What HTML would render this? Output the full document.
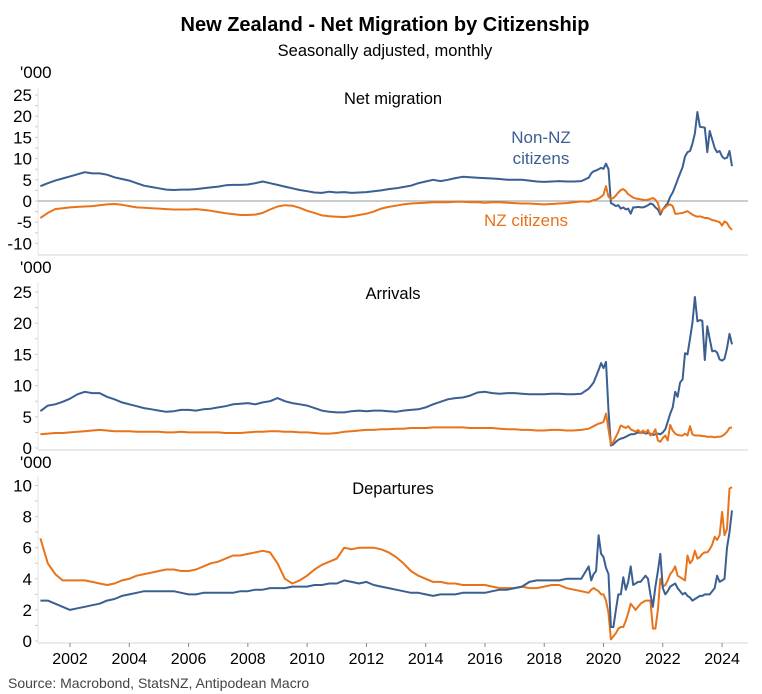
<!DOCTYPE html>
<html><head><meta charset="utf-8">
<style>
html,body{margin:0;padding:0;background:#fff;}
svg{display:block;font-family:"Liberation Sans",Arial,sans-serif;}
</style></head>
<body>
<svg id="chart" width="762" height="694" viewBox="0 0 762 694" xmlns="http://www.w3.org/2000/svg">
<text x="385" y="31" text-anchor="middle" font-size="20" font-weight="bold" fill="#000">New Zealand - Net Migration by Citizenship</text>
<text x="385" y="56" text-anchor="middle" font-size="16.5" fill="#000">Seasonally adjusted, monthly</text>
<text x="8" y="688" font-size="14" fill="#444">Source: Macrobond, StatsNZ, Antipodean Macro</text>
<text x="541" y="143" text-anchor="middle" font-size="17" fill="#3a5f92">Non-NZ</text>
<text x="541" y="164" text-anchor="middle" font-size="17" fill="#3a5f92">citizens</text>
<text x="526" y="226" text-anchor="middle" font-size="17" fill="#e8731a">NZ citizens</text>
<g id="plots"></g>
</svg>
<script>
// Quarterly values 2001Q1..2019Q2 (74 points), then monthly Jul 2019..May 2024 (59 points)
const netNonNZ = [3.5,4.2,4.8,5.3, 5.8,6.3,6.8,6.5, 6.5,6.2,5.6,5.2, 4.8,4.2,3.6,3.3, 3.0,2.7,2.6,2.7, 2.7,2.8,3.0,3.2, 3.4,3.7,3.8,3.8, 3.9,4.2,4.6,4.2, 3.8,3.4,3.0,2.6, 2.3,2.0,1.9,2.2, 2.0,2.1,1.9,2.0, 2.1,2.3,2.5,2.8, 3.0,3.3,3.6,4.2, 4.6,5.0,4.7,5.0, 5.4,5.7,5.6,5.5, 5.4,5.3,5.2,5.0, 5.0,5.0,4.8,4.6, 4.5,4.6,4.7,4.6, 4.6,4.7,
 5.5,6.5,7.0,7.2,7.5,7.8,
 7.6,8.8,7.5,-0.5,-0.8,-1.2,-1.0,-1.8,-1.5,-2.0,-1.8,-3.0,
 -1.5,-1.5,-1.4,-1.5,-1.5,-1.3,-1.0,-0.6,-0.8,-1.5,-2.0,-3.2,
 -2.0,-1.2,-0.5,1.0,2.0,3.5,5.0,6.5,8.0,10.5,11.5,11.8,
 13.5,16.0,21.0,17.5,17.4,17.3,11.5,16.5,14.5,12.5,11.5,11.8,
 10.5,10.0,10.2,11.8,8.2];
const netNZ = [-4.0,-2.8,-1.9,-1.7, -1.5,-1.4,-1.3,-1.2, -1.0,-0.8,-0.7,-0.9, -1.2,-1.5,-1.6,-1.7, -1.8,-1.9,-2.0,-2.0, -2.0,-1.9,-2.1,-2.3, -2.6,-2.9,-3.1,-3.3, -3.3,-3.2,-2.8,-2.0, -1.3,-1.0,-1.1,-1.6, -2.3,-2.8,-3.4,-3.6, -3.7,-3.8,-3.6,-3.3, -3.0,-2.5,-1.8,-1.4, -1.1,-0.8,-0.6,-0.5, -0.4,-0.3,-0.3,-0.3, -0.2,-0.2,-0.3,-0.3, -0.4,-0.3,-0.3,-0.4, -0.5,-0.6,-0.6,-0.7, -0.8,-0.7,-0.6,-0.5, -0.3,-0.1,
 -0.2,0,0.2,0.3,0.6,1.0,
 1.5,3.5,1.0,0.5,0.7,1.3,2.0,2.6,2.8,2.3,1.6,1.2,
 0.8,0.6,0.5,0.4,0.3,0.2,0.3,0.5,0.7,0.3,-0.5,-2.6,
 -2.0,-1.5,-1.0,-0.8,-1.2,-3.0,-3.0,-2.9,-2.8,-2.6,-2.4,-2.8,
 -3.2,-3.5,-3.7,-3.6,-3.8,-4.0,-4.0,-4.2,-4.5,-4.6,-4.8,-5.0,
 -5.8,-4.8,-5.2,-6.2,-6.8];
const arrNonNZ = [5.9,6.8,7.0,7.4, 7.9,8.6,9.0,8.8, 8.8,8.2,7.8,7.3, 7.0,6.7,6.4,6.2, 6.0,5.8,5.9,6.1, 6.1,6.0,6.2,6.3, 6.5,6.7,7.0,7.1, 7.2,7.0,7.3,7.5, 8.0,7.5,7.2,7.0, 6.8,6.4,6.0,5.8, 5.7,5.7,5.9,6.0, 5.9,6.0,6.0,5.9, 5.8,6.0,6.1,6.2, 6.5,7.0,7.4,7.8, 8.0,8.1,8.4,8.9, 9.0,8.8,8.7,8.8, 8.8,8.7,8.6,8.6, 8.6,8.7,8.7,8.6, 8.6,8.7,
 9.5,10.0,10.5,11.5,12.5,13.6,
 12.8,13.8,6.0,0.4,0.6,1.0,1.3,1.5,1.6,1.8,2.0,2.2,
 2.2,2.3,2.5,2.4,2.5,2.3,2.4,2.3,2.1,2.2,2.3,2.2,
 2.5,3.0,4.2,5.5,6.5,9.0,8.2,10.5,11.0,15.2,15.0,17.5,
 20.0,24.2,20.3,20.5,20.4,14.1,19.5,17.5,15.5,15.6,15.3,14.2,
 14.0,14.3,16.0,18.3,16.6];
const arrNZ = [2.2,2.3,2.4,2.4, 2.5,2.6,2.7,2.8, 2.9,2.8,2.7,2.7, 2.7,2.6,2.6,2.6, 2.6,2.5,2.5,2.6, 2.5,2.5,2.5,2.5, 2.5,2.4,2.4,2.4, 2.5,2.6,2.6,2.7, 2.7,2.6,2.6,2.5, 2.5,2.4,2.3,2.3, 2.4,2.6,2.7,2.8, 2.9,2.9,3.0,3.0, 3.1,3.1,3.2,3.2, 3.2,3.3,3.3,3.3, 3.3,3.3,3.2,3.2, 3.2,3.2,3.1,3.0, 3.0,2.9,2.9,2.8, 2.8,2.9,2.9,2.8, 2.8,2.9,
 3.1,3.3,3.5,3.7,3.9,4.0,
 4.2,5.5,3.0,0.6,1.0,1.8,2.6,3.6,3.4,3.2,3.5,3.0,
 2.8,2.6,2.9,2.4,2.8,2.4,2.9,2.0,2.3,3.0,1.2,1.0,
 1.6,2.0,1.2,3.7,2.8,2.3,2.1,2.0,2.0,2.3,2.0,3.5,
 2.2,2.0,2.0,2.0,1.9,1.9,1.8,1.8,1.8,1.7,1.8,1.8,
 1.9,2.2,2.6,3.2,3.3];
const depNonNZ = [2.6,2.6,2.4,2.2, 2.0,2.1,2.2,2.3, 2.4,2.6,2.7,2.9, 3.0,3.1,3.2,3.2, 3.2,3.2,3.2,3.1, 3.0,3.0,3.1,3.1, 3.1,3.1,3.1,3.2, 3.2,3.3,3.3,3.4, 3.4,3.4,3.5,3.5, 3.5,3.6,3.6,3.7, 3.7,3.9,3.8,3.7, 3.8,3.6,3.5,3.4, 3.3,3.2,3.1,3.1, 3.0,2.9,3.0,3.0, 3.0,3.1,3.1,3.1, 3.1,3.2,3.3,3.3, 3.4,3.5,3.8,3.9, 3.9,3.9,3.9,4.0, 4.0,4.0,
 4.8,3.9,4.3,4.5,6.8,5.6,
 5.4,4.7,4.3,0.9,0.9,2.0,3.0,3.0,4.1,3.3,3.8,4.8,
 3.6,3.7,3.8,3.8,4.0,4.2,4.0,3.0,2.2,3.5,4.5,5.6,
 3.4,3.0,3.2,3.5,3.6,3.7,3.4,3.2,3.0,3.1,2.9,2.8,
 2.6,2.7,2.8,2.9,2.9,3.0,3.0,3.0,3.2,3.4,4.2,3.8,
 3.9,4.0,6.0,7.0,8.4];
const depNZ = [6.6,5.0,4.3,3.9, 3.9,3.9,3.9,3.8, 3.7,3.6,3.7,3.9, 4.0,4.2,4.3,4.4, 4.5,4.6,4.6,4.5, 4.5,4.6,4.8,5.0, 5.1,5.3,5.5,5.5, 5.6,5.7,5.8,5.7, 5.0,4.0,3.7,3.9, 4.2,4.6,4.9,5.1, 5.3,6.0,5.9,6.0, 6.0,6.0,5.9,5.7, 5.4,5.0,4.5,4.2, 4.0,3.8,3.8,3.7, 3.7,3.6,3.6,3.6, 3.6,3.5,3.4,3.4, 3.4,3.5,3.4,3.4, 3.5,3.6,3.6,3.4, 3.3,3.2,
 3.1,3.3,3.4,3.3,3.2,3.0,
 3.0,2.6,1.8,0.1,0.3,0.5,0.8,0.9,0.9,1.3,1.8,2.4,
 2.2,2.0,2.2,2.4,2.5,2.6,2.6,2.6,0.8,0.8,2.0,4.0,
 3.5,3.6,3.9,4.3,4.5,4.8,4.2,4.1,4.0,3.9,5.5,5.0,
 5.2,5.8,5.3,5.4,5.6,5.7,5.7,5.9,6.2,6.7,6.5,6.8,
 8.3,6.8,7.2,9.8,9.9];
const yearTicks = [2002,2004,2006,2008,2010,2012,2014,2016,2018,2020,2022,2024];
const netTicks = [25,20,15,10,5,0,-5,-10];
const arrTicks = [25,20,15,10,5,0];
const depTicks = [10,8,6,4,2,0];

const NS='http://www.w3.org/2000/svg';
const root=document.getElementById('plots');
const BLUE='#3a5f92', ORANGE='#e8731a';
const X0=38, X1=748;
function dateOf(i){ return i<74 ? 2001+i*0.25 : 2019.5+(i-74)/12; }
function xScale(t){ return 70+(t-2002)*29.64; }
function mk(tag,attrs){ const e=document.createElementNS(NS,tag); for(const k in attrs) e.setAttribute(k,attrs[k]); root.appendChild(e); return e; }

const panels=[
 {name:'net-migration',title:'Net migration',top:88,bottom:255,zeroY:201,ppu:4.24,ticks:netTicks,minor:2.5,unitY:78,titleY:104,series:[['non-nz',netNonNZ,BLUE],['nz',netNZ,ORANGE]],zeroLine:true},
 {name:'arrivals',title:'Arrivals',top:282,bottom:450,zeroY:448,ppu:6.24,ticks:arrTicks,minor:2.5,unitY:273,titleY:299,series:[['non-nz',arrNonNZ,BLUE],['nz',arrNZ,ORANGE]]},
 {name:'departures',title:'Departures',top:476,bottom:643,zeroY:641,ppu:15.55,ticks:depTicks,minor:1,unitY:468,titleY:494,series:[['nz',depNZ,ORANGE],['non-nz',depNonNZ,BLUE]]}
];
panels.forEach(p=>{
  const y=v=>p.zeroY-v*p.ppu;
  let e=mk('line',{x1:X0,x2:X0,y1:p.top,y2:p.bottom,stroke:'#e4e4e4','stroke-width':1});
  
  
  e=mk('line',{x1:X0,x2:X1,y1:p.bottom,y2:p.bottom,stroke:'#e4e4e4','stroke-width':1.5});
  
  
  e=mk('text',{x:20,y:p.unitY,'font-size':17,fill:'#000'}); e.textContent="'000";
  
  
  e=mk('text',{x:393,y:p.titleY,'text-anchor':'middle','font-size':16.5,fill:'#000'}); e.textContent=p.title;
  
  
  const mx=Math.max(...p.ticks), mn=Math.min(...p.ticks);
  for(let v=mn; v<=mx+1e-9; v+=p.minor){
    e=mk('line',{x1:X0-3,x2:X0,y1:y(v),y2:y(v),stroke:'#ccc','stroke-width':1});
    
    
  }
  p.ticks.forEach(v=>{
    e=mk('text',{x:32,y:y(v)+6,'text-anchor':'end','font-size':17,fill:'#000'}); e.textContent=String(v);
    
    
  });
  if(p.zeroLine){
    e=mk('line',{x1:X0,x2:X1,y1:y(0),y2:y(0),stroke:'#999','stroke-width':1});
    
    
  }
  p.series.forEach(s=>{
    const d=s[1].map((v,i)=>(i?'L':'M')+xScale(dateOf(i)).toFixed(1)+','+y(v).toFixed(1)).join('');
    e=mk('path',{d:d,fill:'none',stroke:s[2],'stroke-width':2,'stroke-linejoin':'round'});
    
    
  });
});
yearTicks.forEach(yr=>{
  const x=xScale(yr);
  let e=mk('line',{x1:x,x2:x,y1:643,y2:647,stroke:'#888','stroke-width':1});
  
  
  e=mk('text',{x:x,y:664,'text-anchor':'middle','font-size':16,fill:'#000'}); e.textContent=String(yr);
  
  
});
</script>
</body></html>
